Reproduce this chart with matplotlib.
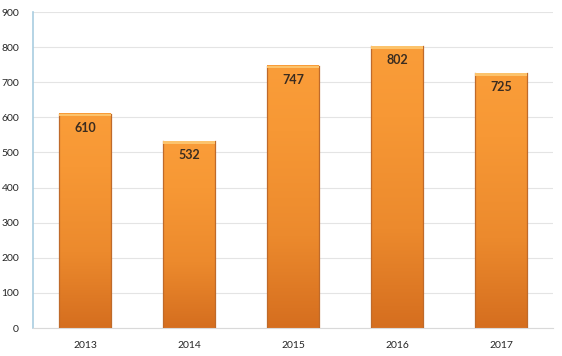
import numpy as np
import matplotlib
matplotlib.use('Agg')
import matplotlib.pyplot as plt
from matplotlib.colors import LinearSegmentedColormap

# chart data
years = ['2013', '2014', '2015', '2016', '2017']
counts = [610, 532, 747, 802, 725]

barW = 0.5
grad = LinearSegmentedColormap.from_list(
    'orng', [(0, '#d56e1f'), (0.35, '#ec8a2d'), (0.75, '#f79835'), (1, '#fa9d39')])

plt.rcParams['font.family'] = ['Lato', 'DejaVu Sans']

fig = plt.figure(figsize=(5.62, 3.56), dpi=100)
ax = fig.add_axes([33/562, 28/356, 520/562, 316/356])

x = np.arange(len(years))
bars = ax.bar(x, counts, width=barW, color='none', edgecolor='none', zorder=2)

# gradient fill inside each bar, light on top, dark at bottom
g = np.linspace(0, 1, 256).reshape(-1, 1)
for b in bars:
    x0 = b.get_x()
    h = b.get_height()
    ax.imshow(g, cmap=grad, origin='lower', aspect='auto',
              extent=(x0, x0 + barW, 0, h), zorder=2, interpolation='bicubic')
    # darker side edges
    ax.plot([x0, x0], [0, h], color='#bf6a2a', lw=0.9, zorder=3)
    ax.plot([x0 + barW, x0 + barW], [0, h], color='#bf6a2a', lw=0.9, zorder=3)
    # light bevel on top
    ax.bar(x0 + barW/2, 7, bottom=h - 7, width=barW, color='#fcc36c',
           edgecolor='none', zorder=3)
    ax.text(x0 + barW/2, h - 40, str(int(h)), ha='center', va='center',
            fontsize=9, fontweight='bold', color='#3a2c20', zorder=4)

ax.set_xlim(-0.5, len(years) - 0.5)
ax.set_ylim(0, 900)
ax.set_yticks(range(0, 901, 100))
ax.set_xticks(x)
ax.set_xticklabels(years)
ax.yaxis.grid(True, color='#e4e4e4', lw=0.8, zorder=0)
ax.set_axisbelow(True)

for s in ['top', 'right']:
    ax.spines[s].set_visible(False)
ax.spines['left'].set_color('#a9cde0')
ax.spines['left'].set_linewidth(1.2)
ax.spines['bottom'].set_color('#d9d9d9')
ax.tick_params(axis='both', length=0, labelsize=7.5, colors='#262626')
ax.tick_params(axis='y', pad=10)
ax.tick_params(axis='x', pad=9)

fig.savefig('out.png', dpi=100)
